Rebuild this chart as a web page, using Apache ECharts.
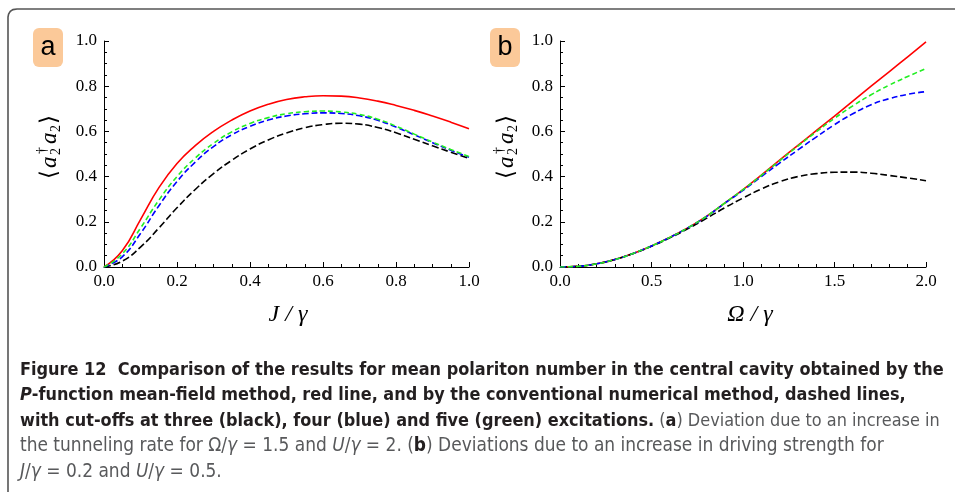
<!DOCTYPE html>
<html>
<head>
<meta charset="utf-8">
<script src="https://cdn.jsdelivr.net/npm/echarts@6/dist/echarts.min.js"></script>
<style>
html,body{margin:0;padding:0;background:#fff;}
#chart{width:955px;height:497px;}
</style>
</head>
<body>
<div id="chart"></div>
<script>
// ---------- DATA ----------
const J_VALUES = [0,0.05,0.1,0.15,0.2,0.25,0.3,0.35,0.4,0.45,0.5,0.55,0.6,0.65,0.7,0.75,0.8,0.85,0.9,0.95,1.0];
const A_RED   = [0,0.072,0.21,0.35,0.458,0.537,0.6,0.65,0.69,0.72,0.741,0.753,0.758,0.756,0.748,0.734,0.715,0.693,0.668,0.641,0.612];
const A_GREEN = [0,0.058,0.172,0.295,0.4,0.482,0.547,0.598,0.635,0.661,0.678,0.687,0.69,0.686,0.675,0.654,0.623,0.588,0.553,0.52,0.489];
const A_BLUE  = [0,0.045,0.148,0.27,0.378,0.464,0.533,0.585,0.622,0.65,0.668,0.678,0.682,0.679,0.669,0.649,0.619,0.585,0.55,0.517,0.486];
const A_BLACK = [0,0.026,0.088,0.172,0.262,0.343,0.413,0.472,0.522,0.562,0.593,0.616,0.63,0.636,0.632,0.617,0.594,0.565,0.536,0.508,0.48];

const OMEGA_VALUES = [0,0.1,0.2,0.3,0.4,0.5,0.6,0.7,0.8,0.9,1.0,1.1,1.2,1.3,1.4,1.5,1.6,1.7,1.8,1.9,2.0];
const B_RED   = [0,0.003,0.014,0.033,0.06,0.093,0.131,0.174,0.224,0.283,0.342,0.407,0.473,0.538,0.603,0.668,0.734,0.8,0.865,0.93,0.996];
const B_GREEN = [0,0.003,0.014,0.033,0.06,0.093,0.131,0.174,0.224,0.283,0.342,0.405,0.47,0.535,0.598,0.658,0.713,0.762,0.805,0.843,0.878];
const B_BLUE  = [0,0.003,0.014,0.033,0.06,0.093,0.131,0.174,0.223,0.282,0.339,0.4,0.46,0.518,0.575,0.63,0.678,0.718,0.745,0.764,0.776];
const B_BLACK = [0,0.003,0.014,0.033,0.06,0.092,0.129,0.17,0.215,0.262,0.305,0.345,0.377,0.4,0.413,0.419,0.42,0.415,0.405,0.394,0.382];

const PANEL_LABELS = ['a', 'b'];
const X_NAMES = ['J / γ', 'Ω / γ'];

// caption lines as [style, text] segments
const CAPTION = [
  [['b','Figure 12  Comparison of the results for mean polariton number in the central cavity obtained by the']],
  [['bi','P'],['b','-function mean-field method, red line, and by the conventional numerical method, dashed lines,']],
  [['b','with cut-offs at three (black), four (blue) and five (green) excitations.'],['r',' ('],['rb','a'],['r',') Deviation due to an increase in']],
  [['r','the tunneling rate for Ω/'],['ri','γ'],['r',' = 1.5 and '],['ri','U'],['r','/'],['ri','γ'],['r',' = 2. ('],['rb','b'],['r',') Deviations due to an increase in driving strength for']],
  [['ri','J'],['r','/'],['ri','γ'],['r',' = 0.2 and '],['ri','U'],['r','/'],['ri','γ'],['r',' = 0.5.']]
];

// ---------- STYLE / LAYOUT ----------
const SERIF = 'Liberation Serif';
const CAP_FONT = '"Liberation Sans Narrow", "DejaVu Sans Condensed", Lato, sans-serif';
const CAP_X = 20;
const CAP_RIGHT = [944, 906, 940, 884, null];
const CAP_Y = [370, 395.5, 421, 446.5, 472];
const BOLD_C = '#231f20', REG_C = '#58595b';
const SEG = {
  b:  {w:'bold', s:'normal', c:BOLD_C},
  bi: {w:'bold', s:'italic', c:BOLD_C},
  r:  {w:'normal', s:'normal', c:REG_C},
  ri: {w:'normal', s:'italic', c:REG_C},
  rb: {w:'bold', s:'normal', c:BOLD_C}
};
const mctx = document.createElement('canvas').getContext('2d');
function lineWidthAt(segs, size){
  let w = 0;
  segs.forEach(([k, t]) => { const st = SEG[k]; mctx.font = `${st.s} ${st.w} ${size}px ${CAP_FONT}`; w += mctx.measureText(t).width; });
  return w;
}
const sizes = CAPTION.map((segs, i) => CAP_RIGHT[i] ? 100 * (CAP_RIGHT[i] - CAP_X) / lineWidthAt(segs, 100) : null);
sizes[4] = sizes[3];

function pairs(xs, ys){ return xs.map((x,i)=>[x, ys[i]]); }

function xAxisCfg(gi, max, interval, minorSplit){
  return {
    type:'value', gridIndex: gi, min:0, max:max, interval:interval,
    axisLine:{show:true, onZero:false, lineStyle:{color:'#000', width:1}},
    axisTick:{show:true, inside:true, length:5, lineStyle:{color:'#000'}},
    minorTick:{show:true, splitNumber:minorSplit, length:3, lineStyle:{color:'#000'}},
    splitLine:{show:false},
    axisLabel:{margin:6, color:'#000', fontFamily:SERIF, fontSize:17, formatter: v => v.toFixed(1)}
  };
}
function yAxisCfg(gi){
  return {
    type:'value', gridIndex: gi, min:0, max:1, interval:0.2,
    axisLine:{show:true, onZero:false, lineStyle:{color:'#000', width:1}},
    axisTick:{show:true, inside:true, length:5, lineStyle:{color:'#000'}},
    minorTick:{show:true, splitNumber:4, length:3, lineStyle:{color:'#000'}},
    splitLine:{show:false},
    axisLabel:{margin:7, color:'#000', fontFamily:SERIF, fontSize:17, formatter: v => v.toFixed(1)}
  };
}
function line(name, gi, xs, ys, color, dash){
  return {
    name, type:'line', xAxisIndex:gi, yAxisIndex:gi, data: pairs(xs, ys),
    smooth:0.5, showSymbol:false, symbol:'none',
    lineStyle:{color, width:1.6, type: dash ? dash : 'solid'},
    emphasis:{disabled:true}
  };
}

function yName(cx, cy){
  const t = (txt, x, y, size, italic) => ({
    type:'text', x, y,
    style:{text:txt, fontFamily:SERIF, fontSize:size, fontStyle: italic ? 'italic':'normal',
           fill:'#000', align:'left', textAlign:'left', verticalAlign:'middle', textVerticalAlign:'middle'}
  });
  return {
    type:'group', x:cx, y:cy, rotation: Math.PI/2,
    children:[
      t('⟨', -31, 0, 23, false),
      t('a', -20, 0, 23, true),
      t('2', -7, 6, 14, false),
      t('†', -6, -8, 14, false),
      t('a', 4, 0, 23, true),
      t('2', 16, 6, 14, false),
      t('⟩', 24, 0, 23, false)
    ]
  };
}
function panelLabel(x, txt){
  return {
    type:'group', children:[
      {type:'rect', shape:{x:x, y:28, width:30, height:39, r:6}, style:{fill:'#fbc999'}},
      {type:'text', x:x+15, y:48, style:{text:txt, fontFamily:'Liberation Sans', fontSize:27,
        fill:'#000', align:'center', textAlign:'center', verticalAlign:'middle', textVerticalAlign:'middle'}}
    ]
  };
}

const graphics = [
  {type:'polyline', shape:{points:[[8,492],[8,17],[8.6,14],[10.3,11.3],[13,9.6],[17,9],[960,9]]},
    style:{fill:null, stroke:'#555', lineWidth:1.6}},
  panelLabel(33, PANEL_LABELS[0]),
  panelLabel(490, PANEL_LABELS[1]),
  yName(50, 148),
  yName(507, 148),
  {type:'text', x:288, y:315, style:{text:X_NAMES[0], fontFamily:SERIF, fontStyle:'italic', fontSize:24, fill:'#000',
    align:'center', textAlign:'center', verticalAlign:'middle', textVerticalAlign:'middle'}},
  {type:'text', x:750, y:315, style:{text:X_NAMES[1], fontFamily:SERIF, fontStyle:'italic', fontSize:24, fill:'#000',
    align:'center', textAlign:'center', verticalAlign:'middle', textVerticalAlign:'middle'}}
];
CAPTION.forEach((segs, i) => {
  const size = sizes[i];
  const rich = {};
  Object.keys(SEG).forEach(k => {
    const st = SEG[k];
    rich[k] = {fontFamily: CAP_FONT, fontWeight: st.w, fontStyle: st.s, fontSize: size, fill: st.c, color: st.c};
  });
  const text = segs.map(([k, t]) => `{${k}|${t}}`).join('');
  graphics.push({type:'text', x:CAP_X, y:CAP_Y[i], style:{text, rich, fontFamily:CAP_FONT, fontSize:size,
    align:'left', textAlign:'left', verticalAlign:'middle', textVerticalAlign:'middle'}});
});

const chart = echarts.init(document.getElementById('chart'), null, {renderer:'canvas'});
chart.setOption({
  animation:false,
  backgroundColor:'#fff',
  grid:[
    {left:104, top:41, width:365, height:226},
    {left:560, top:41, width:366, height:226}
  ],
  xAxis:[ xAxisCfg(0, 1, 0.2, 4), xAxisCfg(1, 2, 0.5, 5) ],
  yAxis:[ yAxisCfg(0), yAxisCfg(1) ],
  series:[
    line('red a', 0, J_VALUES, A_RED, '#ff0000'),
    line('black a', 0, J_VALUES, A_BLACK, '#000000', [7,3]),
    line('blue a', 0, J_VALUES, A_BLUE, '#0000ff', [6,3]),
    line('green a', 0, J_VALUES, A_GREEN, '#22ee22', [5,3]),
    line('red b', 1, OMEGA_VALUES, B_RED, '#ff0000'),
    line('black b', 1, OMEGA_VALUES, B_BLACK, '#000000', [7,3]),
    line('blue b', 1, OMEGA_VALUES, B_BLUE, '#0000ff', [6,3]),
    line('green b', 1, OMEGA_VALUES, B_GREEN, '#22ee22', [5,3])
  ],
  graphic: graphics
});
</script>
</body>
</html>
